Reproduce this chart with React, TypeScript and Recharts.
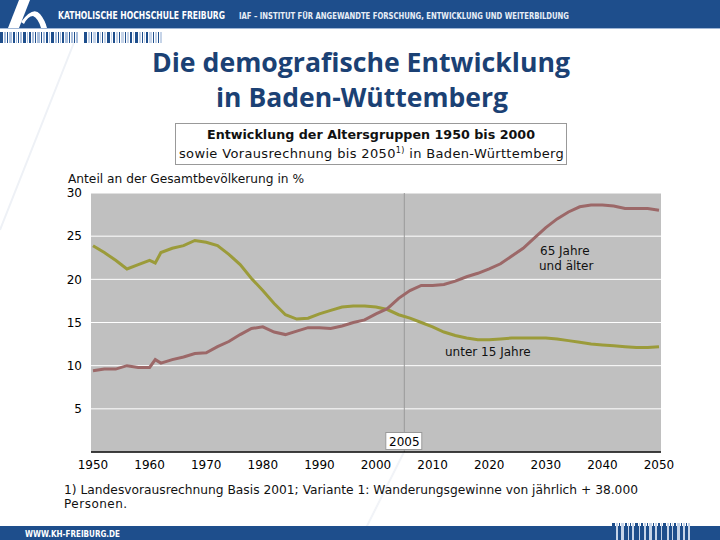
import {
  LineChart,
  Line,
  XAxis,
  YAxis,
  CartesianGrid,
  ReferenceLine,
} from 'recharts'

const years = [
  1950, 1952, 1954, 1956, 1958, 1960, 1961, 1962, 1964, 1966, 1968, 1970,
  1972, 1974, 1976, 1978, 1980, 1982, 1984, 1986, 1988, 1990, 1992, 1994,
  1996, 1998, 2000, 2002, 2004, 2006, 2008, 2010, 2012, 2014, 2016, 2018,
  2020, 2022, 2024, 2026, 2028, 2030, 2032, 2034, 2036, 2038, 2040, 2042,
  2044, 2046, 2048, 2050,
]

// Anteil unter 15 Jahre (%)
const under15 = [
  23.9, 23.1, 22.2, 21.2, 21.7, 22.2, 21.9, 23.1, 23.6, 23.9, 24.5, 24.3,
  23.9, 22.9, 21.7, 20.1, 18.7, 17.2, 15.9, 15.4, 15.5, 16.0, 16.4, 16.8,
  16.9, 16.9, 16.8, 16.5, 15.9, 15.5, 15.0, 14.5, 13.9, 13.5, 13.2, 13.0,
  13.0, 13.1, 13.2, 13.2, 13.2, 13.2, 13.1, 12.9, 12.7, 12.5, 12.4, 12.3,
  12.2, 12.1, 12.1, 12.2,
]

// Anteil 65 Jahre und älter (%)
const over65 = [
  9.4, 9.6, 9.6, 10.0, 9.8, 9.8, 10.7, 10.3, 10.7, 11.0, 11.4, 11.5,
  12.2, 12.8, 13.6, 14.3, 14.5, 13.9, 13.6, 14.0, 14.4, 14.4, 14.3, 14.6,
  15.0, 15.3, 16.0, 16.6, 17.8, 18.7, 19.3, 19.3, 19.4, 19.8, 20.3, 20.7,
  21.2, 21.8, 22.7, 23.6, 24.8, 26.0, 27.0, 27.8, 28.4, 28.6, 28.6, 28.5,
  28.2, 28.2, 28.2, 28.0,
]

const xTicks = [1950, 1960, 1970, 1980, 1990, 2000, 2010, 2020, 2030, 2040, 2050]
const yTicks = [0, 5, 10, 15, 20, 25, 30]

const data = years.map((year, i) => ({
  year,
  under15: under15[i],
  over65: over65[i],
}))

const BLUE = '#1e4e8c'
const FONT = 'DejaVu Sans, Verdana, sans-serif'

// decorative stripe pattern of the slide master
const stripes = [3, 2, 1, 3, 2, 1, 1, 2, 3, 1, 2, 2, 1, 3, 1, 2, 2, 1, 3, 2, 1, 1, 2, 3, 1, 2, 1, 2]

function Stripes({ x, y, h, light }: { x: number; y: number; h: number; light: string }) {
  let cx = x
  return (
    <g>
      {stripes.map((w, i) => {
        const r = <rect key={i} x={cx} y={y} width={w} height={h} fill={i % 2 ? light : BLUE} />
        cx += w + 1
        return r
      })}
    </g>
  )
}

function YearLabel(props: any) {
  const { x, y, height } = props.viewBox
  return (
    <g>
      <rect x={x - 18.5} y={y + height - 19.5} width={36} height={17} fill="#fff" stroke="#999" />
      <text x={x} y={y + height - 6.5} textAnchor="middle" fontSize={12} fontFamily={FONT} fill="#000">
        2005
      </text>
    </g>
  )
}

export default function App() {
  return (
    <div
      style={{
        position: 'fixed',
        left: 0,
        top: 0,
        width: 720,
        height: 540,
        background: '#fff',
        overflow: 'hidden',
      }}
    >
      <svg width={720} height={540} style={{ position: 'absolute', left: 0, top: 0 }}>
        {/* faint watermark strokes */}
        <path d="M 0 230 L 75 40" stroke="#eef1f6" strokeWidth={2} fill="none" />
        <path d="M 360 540 L 420 420" stroke="#f1f3f7" strokeWidth={2} fill="none" />

        {/* header */}
        <rect x={0} y={0} width={720} height={28} fill={BLUE} />
        <rect x={0} y={28} width={720} height={1} fill="#9fb6d6" />
        <path d="M 8 28 L 19 0 L 30 0 L 19 28 Z" fill="#fff" />
        <path d="M 21 22 Q 33 6 40 14 Q 45 20 47 28 L 41 28 Q 38 18 33 16 Q 28 16 24 24 Z" fill="#fff" />
        <text x={58} y={19} fontSize={10} fontWeight="bold" fill="#fff" fontFamily="DejaVu Sans Condensed, DejaVu Sans" textLength={167} lengthAdjust="spacingAndGlyphs">
          KATHOLISCHE HOCHSCHULE FREIBURG
        </text>
        <text x={239} y={19} fontSize={9} fontWeight="bold" fill="#e8eef7" fontFamily="DejaVu Sans Condensed, DejaVu Sans" textLength={330} lengthAdjust="spacingAndGlyphs">
          IAF – INSTITUT FÜR ANGEWANDTE FORSCHUNG, ENTWICKLUNG UND WEITERBILDUNG
        </text>
        <Stripes x={0} y={32} h={11} light="#a9bedc" />
        <Stripes x={84} y={32} h={11} light="#c6d4e8" />

        {/* title */}
        <text x={361} y={72} textAnchor="middle" fontSize={27} fontWeight="bold" fill="#1b4174" fontFamily="Open Sans, sans-serif" textLength={418} lengthAdjust="spacingAndGlyphs">
          Die demografische Entwicklung
        </text>
        <text x={362} y={107} textAnchor="middle" fontSize={27} fontWeight="bold" fill="#1b4174" fontFamily="Open Sans, sans-serif" textLength={292} lengthAdjust="spacingAndGlyphs">
          in Baden-Wüttemberg
        </text>

        {/* chart title box */}
        <rect x={175.5} y={123.5} width={391} height={41} fill="#fff" stroke="#999" />
        <text x={371} y={139} textAnchor="middle" fontSize={13} fontWeight="bold" fill="#111" fontFamily={FONT} textLength={328} lengthAdjust="spacingAndGlyphs">
          Entwicklung der Altersgruppen 1950 bis 2000
        </text>
        <text x={179} y={158} fontSize={13} fill="#111" fontFamily={FONT} letterSpacing={0.35}>
          sowie Vorausrechnung bis 2050
          <tspan fontSize={8} dy={-5}>1)</tspan>
          <tspan dy={5}> in Baden-Württemberg</tspan>
        </text>

        <text x={68} y={183} fontSize={12} fill="#111" fontFamily={FONT} textLength={236} lengthAdjust="spacingAndGlyphs">
          Anteil an der Gesamtbevölkerung in %
        </text>

        {/* footnote */}
        <text x={64} y={494} fontSize={12} fill="#111" fontFamily={FONT} textLength={574} lengthAdjust="spacingAndGlyphs">
          1) Landesvorausrechnung Basis 2001; Variante 1: Wanderungsgewinne von jährlich + 38.000
        </text>
        <text x={64} y={508} fontSize={12} fill="#111" fontFamily={FONT} letterSpacing={0.5}>
          Personen.
        </text>

        {/* footer */}
        <rect x={0} y={526} width={720} height={14} fill={BLUE} />
        <text x={25} y={536.5} fontSize={8} fontWeight="bold" fill="#fff" fontFamily="DejaVu Sans Condensed, DejaVu Sans" textLength={95} lengthAdjust="spacingAndGlyphs">
          WWW.KH-FREIBURG.DE
        </text>
        <Stripes x={612} y={523} h={17} light="#c6d4e8" />
      </svg>

      <div style={{ position: 'absolute', left: 50, top: 180 }}>
        <LineChart
          width={660}
          height={300}
          data={data}
          margin={{ top: 13, right: 49, bottom: 0, left: 11 }}
        >
          <CartesianGrid fill="#c0c0c0" stroke="#fff" strokeWidth={1} vertical={false} />
          <XAxis
            dataKey="year"
            type="number"
            domain={[1950, 2050]}
            ticks={xTicks}
            padding={{ left: 2, right: 2 }}
            axisLine={{ stroke: '#000', strokeWidth: 1.5 }}
            tickLine={false}
            tickSize={0}
            tickMargin={8}
            height={28}
            tick={{ fontSize: 12, fill: '#000', fontFamily: FONT }}
          />
          <YAxis
            type="number"
            domain={[0, 30]}
            ticks={yTicks}
            width={30}
            axisLine={false}
            tickLine={false}
            tickSize={0}
            tickMargin={9}
            tickFormatter={(v: number) => (v === 0 ? '' : String(v))}
            tick={{ fontSize: 12, fill: '#000', fontFamily: FONT }}
          />
          <ReferenceLine x={2005} stroke="#999" strokeWidth={1} label={<YearLabel />} />
          <Line
            type="linear"
            dataKey="under15"
            stroke="#9b9b3a"
            strokeWidth={3}
            dot={false}
            isAnimationActive={false}
          />
          <Line
            type="linear"
            dataKey="over65"
            stroke="#9c6868"
            strokeWidth={3}
            dot={false}
            isAnimationActive={false}
          />
        </LineChart>
      </div>

      <svg width={720} height={540} style={{ position: 'absolute', left: 0, top: 0, pointerEvents: 'none' }}>
        <text x={540} y={255} fontSize={12} fill="#111" fontFamily={FONT}>65 Jahre</text>
        <text x={539} y={270} fontSize={12} fill="#111" fontFamily={FONT}>und älter</text>
        <text x={445} y={356} fontSize={12} fill="#111" fontFamily={FONT}>unter 15 Jahre</text>
      </svg>
    </div>
  )
}
